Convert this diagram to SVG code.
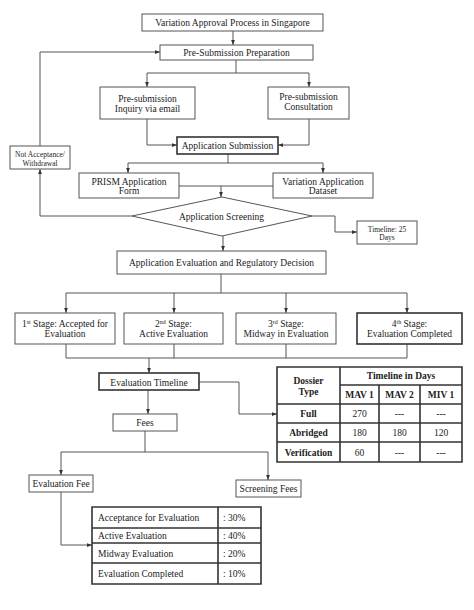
<svg xmlns="http://www.w3.org/2000/svg" width="474" height="610" viewBox="0 0 474 610">
<style>
.bx{fill:#fff;stroke:#555;stroke-width:1}
.bk{fill:#fff;stroke:#333;stroke-width:1.6}
.t{font-family:"Liberation Serif","Times New Roman",serif;font-size:9.5px;fill:#222;text-anchor:middle}
.s{font-size:7.5px}
.l{text-anchor:start}
.b{font-weight:bold}
.c{fill:none;stroke:#555;stroke-width:1}
.tb{fill:none;stroke:#333;stroke-width:1.6}
.sup{font-size:6px}
</style>
<defs>
<marker id="ah" viewBox="0 0 8 6" markerWidth="5" markerHeight="4" refX="8" refY="3" orient="auto" markerUnits="userSpaceOnUse">
<path d="M0,0 L8,3 L0,6 z" fill="#333"/>
</marker>
</defs>
<rect width="474" height="610" fill="#fff"/>
<g id="connectors">
<path class="c" d="M233,31 V45" marker-end="url(#ah)"/>
<path class="c" d="M236,60 V73 M147,73 H309"/>
<path class="c" d="M147,73 V87" marker-end="url(#ah)"/>
<path class="c" d="M309,73 V87" marker-end="url(#ah)"/>
<path class="c" d="M147,119 V145 H177" marker-end="url(#ah)"/>
<path class="c" d="M309,119 V145 H278" marker-end="url(#ah)"/>
<path class="c" d="M228,154 V163 M128,163 H323"/>
<path class="c" d="M128,163 V173" marker-end="url(#ah)"/>
<path class="c" d="M323,163 V173" marker-end="url(#ah)"/>
<path class="c" d="M179,186 H221 M273,186 H221"/>
<path class="c" d="M221,186 V197" marker-end="url(#ah)"/>
<path class="c" d="M132,216 H40 V169" marker-end="url(#ah)"/>
<path class="c" d="M40,146 V52 H160" marker-end="url(#ah)"/>
<path class="c" d="M312,216 H335 V232 H357" marker-end="url(#ah)"/>
<path class="c" d="M223,236 V251" marker-end="url(#ah)"/>
<path class="c" d="M221,274 V293 M66,293 H407"/>
<path class="c" d="M66,293 V313" marker-end="url(#ah)"/>
<path class="c" d="M174,293 V313" marker-end="url(#ah)"/>
<path class="c" d="M286,293 V313" marker-end="url(#ah)"/>
<path class="c" d="M407,293 V313" marker-end="url(#ah)"/>
<path class="c" d="M66,344 V358 H407 V344 M174,344 V358 M286,344 V358"/>
<path class="c" d="M149,358 V373" marker-end="url(#ah)"/>
<path class="c" d="M148,390 V414" marker-end="url(#ah)"/>
<path class="c" d="M199,382 H239 V414 H277" marker-end="url(#ah)"/>
<path class="c" d="M145,431 V452 M61,452 H268"/>
<path class="c" d="M61,452 V475" marker-end="url(#ah)"/>
<path class="c" d="M268,452 V480" marker-end="url(#ah)"/>
<path class="c" d="M61,492 V545 H92" marker-end="url(#ah)"/>
</g>
<g id="title">
<rect class="bx" x="142" y="14" width="181" height="17"/>
<text class="t" x="232.5" y="26">Variation Approval Process in Singapore</text>
</g>
<g id="presub">
<rect class="bx" x="160" y="45" width="153" height="15"/>
<text class="t" x="236.5" y="56">Pre-Submission Preparation</text>
</g>
<g id="inquiry">
<rect class="bx" x="100" y="87" width="95" height="32"/>
<text class="t" x="147.5" y="101.5">Pre-submission</text>
<text class="t" x="147.5" y="111.5">Inquiry via email</text>
</g>
<g id="consultation">
<rect class="bx" x="268" y="87" width="81" height="32"/>
<text class="t" x="308.5" y="99.5">Pre-submission</text>
<text class="t" x="308.5" y="109.5">Consultation</text>
</g>
<g id="appsub">
<rect class="bk" x="177" y="137" width="101" height="17"/>
<text class="t" x="227.5" y="149">Application Submission</text>
</g>
<g id="notaccept">
<rect class="bx" x="10" y="146" width="60" height="23"/>
<text class="t s" x="40" y="156.5">Not Acceptance/</text>
<text class="t s" x="40" y="165.5">Withdrawal</text>
</g>
<g id="prism">
<rect class="bx" x="79" y="173" width="100" height="25"/>
<text class="t" x="129" y="184.5">PRISM Application</text>
<text class="t" x="129" y="193.5">Form</text>
</g>
<g id="dataset">
<rect class="bx" x="273" y="173" width="100" height="25"/>
<text class="t" x="323" y="184.5">Variation Application</text>
<text class="t" x="323" y="193.5">Dataset</text>
</g>
<g id="screening">
<polygon class="bx" points="222,197 312,216 222,236 132,216"/>
<text class="t" x="221.5" y="219.5">Application Screening</text>
</g>
<g id="timeline25">
<rect class="bx" x="357" y="221" width="60" height="23"/>
<text class="t s" x="387" y="231.6">Timeline: 25</text>
<text class="t s" x="387" y="240">Days</text>
</g>
<g id="evaldecision">
<rect class="bx" x="117" y="251" width="209" height="23"/>
<text class="t" x="221.5" y="266">Application Evaluation and Regulatory Decision</text>
</g>
<g id="stage1">
<rect class="bx" x="15" y="313" width="100" height="31"/>
<text class="t" x="65" y="326.5">1<tspan class="sup" dy="-3">st</tspan><tspan dy="3"> Stage: Accepted for</tspan></text>
<text class="t" x="65" y="336.5">Evaluation</text>
</g>
<g id="stage2">
<rect class="bx" x="124" y="313" width="99" height="31"/>
<text class="t" x="173.5" y="326.5">2<tspan class="sup" dy="-3">nd</tspan><tspan dy="3"> Stage:</tspan></text>
<text class="t" x="173.5" y="336.5">Active Evaluation</text>
</g>
<g id="stage3">
<rect class="bx" x="236" y="313" width="100" height="31"/>
<text class="t" x="286" y="326.5">3<tspan class="sup" dy="-3">rd</tspan><tspan dy="3"> Stage:</tspan></text>
<text class="t" x="286" y="336.5">Midway in Evaluation</text>
</g>
<g id="stage4">
<rect class="bk" x="357" y="313" width="105" height="31"/>
<text class="t" x="409.5" y="326.5">4<tspan class="sup" dy="-3">th</tspan><tspan dy="3"> Stage:</tspan></text>
<text class="t" x="409.5" y="336.5">Evaluation Completed</text>
</g>
<g id="evaltimeline">
<rect class="bk" x="99" y="373" width="100" height="17"/>
<text class="t" x="149" y="385.5">Evaluation Timeline</text>
</g>
<g id="fees">
<rect class="bx" x="113" y="414" width="64" height="17"/>
<text class="t" x="145" y="425.5">Fees</text>
</g>
<g id="evalfee">
<rect class="bx" x="29" y="475" width="64" height="17"/>
<text class="t" x="61" y="486.5">Evaluation Fee</text>
</g>
<g id="screeningfees">
<rect class="bx" x="236" y="480" width="65" height="17"/>
<text class="t" x="268.5" y="492">Screening Fees</text>
</g>
<g id="timelinetable">
<rect x="277" y="367" width="185" height="95" fill="#fff"/>
<path class="tb" d="M277,367 H462 V462 H277 Z M340,367 V462 M379,385 V462 M420,385 V462 M340,385 H462 M277,404 H462 M277,423 H462 M277,442 H462"/>
<text class="t b" x="308.5" y="384">Dossier</text>
<text class="t b" x="308.5" y="395">Type</text>
<text class="t b" x="401" y="379">Timeline in Days</text>
<text class="t b" x="359.5" y="398">MAV 1</text>
<text class="t b" x="399.5" y="398">MAV 2</text>
<text class="t b" x="441" y="398">MIV 1</text>
<text class="t b" x="308.5" y="416.5">Full</text>
<text class="t" x="359.5" y="416.5">270</text>
<text class="t" x="399.5" y="416.5">---</text>
<text class="t" x="441" y="416.5">---</text>
<text class="t b" x="308.5" y="435.5">Abridged</text>
<text class="t" x="359.5" y="435.5">180</text>
<text class="t" x="399.5" y="435.5">180</text>
<text class="t" x="441" y="435.5">120</text>
<text class="t b" x="308.5" y="455.5">Verification</text>
<text class="t" x="359.5" y="455.5">60</text>
<text class="t" x="399.5" y="455.5">---</text>
<text class="t" x="441" y="455.5">---</text>
</g>
<g id="feetable">
<rect x="92" y="507" width="169" height="77" fill="#fff"/>
<path class="tb" d="M92,507 H261 V584 H92 Z M218,507 V584 M92,528 H261 M92,543 H261 M92,563 H261"/>
<text class="t l" x="98" y="520.5">Acceptance for Evaluation</text>
<text class="t l" x="223" y="520.5">: 30%</text>
<text class="t l" x="98" y="538.5">Active Evaluation</text>
<text class="t l" x="223" y="538.5">: 40%</text>
<text class="t l" x="98" y="556.5">Midway Evaluation</text>
<text class="t l" x="223" y="556.5">: 20%</text>
<text class="t l" x="98" y="577">Evaluation Completed</text>
<text class="t l" x="223" y="577">: 10%</text>
</g>
</svg>
